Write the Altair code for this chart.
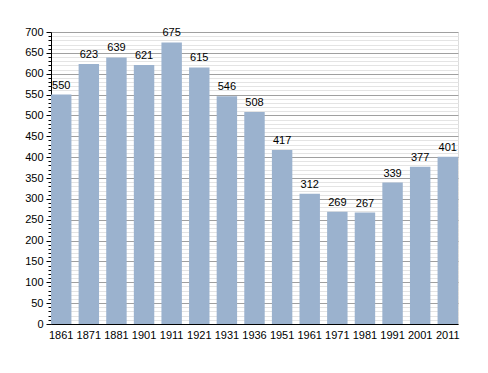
import altair as alt
import pandas as pd

years = ["1861", "1871", "1881", "1901", "1911", "1921", "1931", "1936",
         "1951", "1961", "1971", "1981", "1991", "2001", "2011"]
population = [550, 623, 639, 621, 675, 615, 546, 508, 417, 312, 269, 267, 339, 377, 401]
y_ticks = list(range(0, 701, 10))

df = pd.DataFrame({"year": years, "pop": population})

font = "Liberation Sans"
major = "datum.value % 50 === 0"

x = alt.X("year:N", sort=years, title=None,
          scale=alt.Scale(paddingInner=0.26, paddingOuter=0),
          axis=alt.Axis(labelAngle=0, ticks=False, domainColor="black",
                        labelFont=font, labelFontSize=11, labelColor="black",
                        labelPadding=5, grid=False))
y = alt.Y("pop:Q", title=None,
          scale=alt.Scale(domain=[0, 700], nice=False),
          axis=alt.Axis(values=y_ticks, tickCount=len(y_ticks), domainColor="black",
                        labelExpr="datum.value % 50 === 0 ? datum.label : ''",
                        labelOverlap=False, labelFont=font, labelFontSize=11,
                        labelColor="black", labelPadding=3,
                        tickColor="black",
                        tickSize=alt.condition(major, alt.value(5), alt.value(3)),
                        grid=True,
                        gridColor=alt.condition(major, alt.value("#a0a0a0"), alt.value("#e4e4e4")),
                        gridWidth=1))

bars = alt.Chart(df).mark_bar(color="#9bb2ce").encode(x=x, y=y)
labels = alt.Chart(df).mark_text(baseline="bottom", dy=-4, font=font,
                                 fontSize=11, color="black").encode(
    x=alt.X("year:N", sort=years), y=alt.Y("pop:Q"), text="pop:Q")

chart = alt.layer(bars, labels).properties(
    width=407, height=292,
    autosize=alt.AutoSizeParams(type="none"),
    padding={"left": 43, "top": 24, "right": 20, "bottom": 40},
).configure_view(stroke=None).configure(background="white")

chart.save("out.html", embed_options={"renderer": "svg", "actions": False})
